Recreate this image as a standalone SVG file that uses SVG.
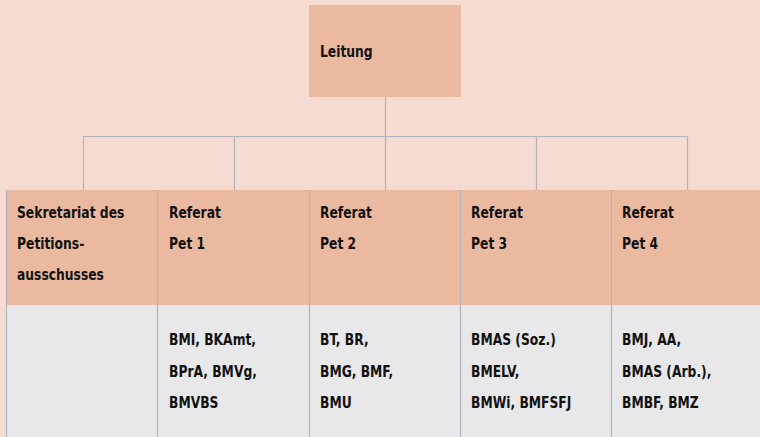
<svg xmlns="http://www.w3.org/2000/svg" width="760" height="437" viewBox="0 0 760 437">
<style>
.t{font-family:"DejaVu Sans Condensed","DejaVu Sans","Liberation Sans",sans-serif;font-weight:bold;font-size:16.5px;fill:#111}
.hd{fill:#EBB8A0}
.bd{fill:#E8E7E9}
.ln{stroke:#B3B3BB;stroke-width:1.2;fill:none}
</style>
<rect width="760" height="437" fill="#F6DBD2"/>
<g id="connectors" class="ln">
<path d="M385.5 97V136.5M83.5 190V136.5H687.5V190M234.5 136.5V190M385.5 136.5V190M536.5 136.5V190"/>
</g>
<g id="leitung">
<rect x="309" y="5" width="152" height="92" class="hd"/>
<text transform="translate(320 57) scale(0.83 1)" class="t">Leitung</text>
</g>
<g id="sekretariat">
<rect x="6" y="190" width="151" height="115" class="hd"/>
<rect x="6" y="305" width="151" height="132" class="bd"/>
<text transform="translate(17 0) scale(0.83 1)" class="t"><tspan x="0" y="218">Sekretariat des</tspan><tspan x="0" y="249">Petitions-</tspan><tspan x="0" y="280">ausschusses</tspan></text>
</g>
<g id="pet1">
<rect x="157" y="190" width="152" height="115" class="hd"/>
<rect x="157" y="305" width="152" height="132" class="bd"/>
<text transform="translate(169 0) scale(0.83 1)" class="t"><tspan x="0" y="218">Referat</tspan><tspan x="0" y="249">Pet 1</tspan><tspan x="0" y="345">BMI, BKAmt,</tspan><tspan x="0" y="377">BPrA, BMVg,</tspan><tspan x="0" y="408">BMVBS</tspan></text>
</g>
<g id="pet2">
<rect x="309" y="190" width="151" height="115" class="hd"/>
<rect x="309" y="305" width="151" height="132" class="bd"/>
<text transform="translate(320 0) scale(0.83 1)" class="t"><tspan x="0" y="218">Referat</tspan><tspan x="0" y="249">Pet 2</tspan><tspan x="0" y="345">BT, BR,</tspan><tspan x="0" y="377">BMG, BMF,</tspan><tspan x="0" y="408">BMU</tspan></text>
</g>
<g id="pet3">
<rect x="460" y="190" width="151" height="115" class="hd"/>
<rect x="460" y="305" width="151" height="132" class="bd"/>
<text transform="translate(471 0) scale(0.83 1)" class="t"><tspan x="0" y="218">Referat</tspan><tspan x="0" y="249">Pet 3</tspan><tspan x="0" y="345">BMAS (Soz.)</tspan><tspan x="0" y="377">BMELV,</tspan><tspan x="0" y="408">BMWi, BMFSFJ</tspan></text>
</g>
<g id="pet4">
<rect x="611" y="190" width="149" height="115" class="hd"/>
<rect x="611" y="305" width="149" height="132" class="bd"/>
<text transform="translate(622 0) scale(0.83 1)" class="t"><tspan x="0" y="218">Referat</tspan><tspan x="0" y="249">Pet 4</tspan><tspan x="0" y="345">BMJ, AA,</tspan><tspan x="0" y="377">BMAS (Arb.),</tspan><tspan x="0" y="408">BMBF, BMZ</tspan></text>
</g>
<g id="dividers" class="ln">
<path d="M6.5 190V437M157.5 190V437M309.5 190V437M460.5 190V437M611.5 190V437"/>
</g>
</svg>
